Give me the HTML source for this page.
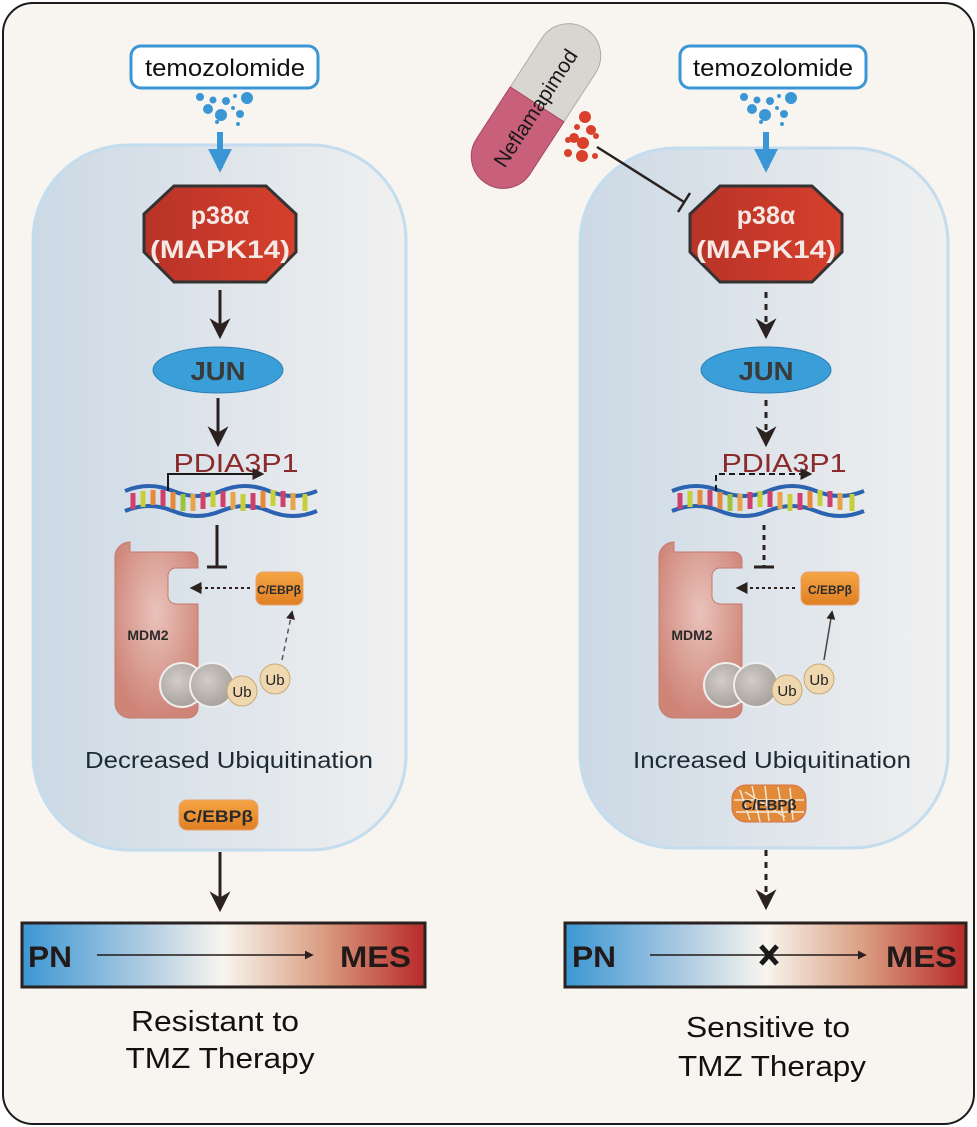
<!DOCTYPE html>
<html><head><meta charset="utf-8"><style>
html,body{margin:0;padding:0;background:#fff}
svg{display:block;font-family:"Liberation Sans",Arial,sans-serif}
</style></head><body>
<svg width="977" height="1127" viewBox="0 0 977 1127" xmlns="http://www.w3.org/2000/svg">
<defs>
<linearGradient id="cell" x1="0" x2="1"><stop offset="0" stop-color="#ccd9e5"/><stop offset="1" stop-color="#f0f0f0"/></linearGradient>
<linearGradient id="oct" x1="0" x2="1"><stop offset="0" stop-color="#b83328"/><stop offset="1" stop-color="#d6402c"/></linearGradient>
<linearGradient id="bar" x1="0" x2="1"><stop offset="0" stop-color="#3b97d3"/><stop offset="0.3" stop-color="#aecbe2"/><stop offset="0.5" stop-color="#f8f5ee"/><stop offset="0.75" stop-color="#d99c80"/><stop offset="1" stop-color="#b8292a"/></linearGradient>
<linearGradient id="orng" x1="0" y1="0" x2="0" y2="1"><stop offset="0" stop-color="#f4a544"/><stop offset="1" stop-color="#e07f24"/></linearGradient>
<radialGradient id="mdm" cx="0.5" cy="0.4" r="0.6"><stop offset="0" stop-color="#e9c3bb"/><stop offset="1" stop-color="#cf8478"/></radialGradient>
<radialGradient id="gry" cx="0.4" cy="0.4" r="0.6"><stop offset="0" stop-color="#d2cdc8"/><stop offset="1" stop-color="#a8a29d"/></radialGradient>
<marker id="ah" viewBox="0 0 10 10" refX="8" refY="5" markerWidth="6" markerHeight="6" orient="auto"><path d="M0,0 L10,5 L0,10 Z" fill="#2b2220"/></marker>
<marker id="ahs" viewBox="0 0 10 10" refX="8" refY="5" markerWidth="7" markerHeight="7" orient="auto"><path d="M0,0 L10,5 L0,10 L3,5 Z" fill="#2b2220"/></marker>
<marker id="ahb" viewBox="0 0 10 10" refX="8" refY="5" markerWidth="4" markerHeight="4" orient="auto"><path d="M0,0 L10,5 L0,10 Z" fill="#3a96d4"/></marker>
<g id="dna">
<path d="M0,8 q24,-10 48,0 t48,0 t48,0 t48,0" fill="none" stroke="#2b63b0" stroke-width="4"/>
<path d="M0,28 q24,-10 48,0 t48,0 t48,0 t48,0" fill="none" stroke="#2b63b0" stroke-width="4"/>
<g stroke-width="5">
<line x1="8" y1="10" x2="8" y2="26" stroke="#d0406e"/><line x1="18" y1="8" x2="18" y2="24" stroke="#c6cf3a"/><line x1="28" y1="7" x2="28" y2="22" stroke="#e58a3a"/><line x1="38" y1="7" x2="38" y2="23" stroke="#d0406e"/><line x1="48" y1="9" x2="48" y2="26" stroke="#e58a3a"/><line x1="58" y1="11" x2="58" y2="28" stroke="#9cc43a"/><line x1="68" y1="11" x2="68" y2="28" stroke="#e8a44a"/><line x1="78" y1="9" x2="78" y2="26" stroke="#d0406e"/><line x1="88" y1="8" x2="88" y2="24" stroke="#c6cf3a"/><line x1="98" y1="8" x2="98" y2="24" stroke="#d0406e"/><line x1="108" y1="9" x2="108" y2="26" stroke="#e8a44a"/><line x1="118" y1="11" x2="118" y2="28" stroke="#c6cf3a"/><line x1="128" y1="10" x2="128" y2="27" stroke="#d0406e"/><line x1="138" y1="8" x2="138" y2="25" stroke="#e58a3a"/><line x1="148" y1="7" x2="148" y2="23" stroke="#c6cf3a"/><line x1="158" y1="8" x2="158" y2="24" stroke="#d0406e"/><line x1="168" y1="10" x2="168" y2="27" stroke="#e8a44a"/><line x1="180" y1="11" x2="180" y2="28" stroke="#c6cf3a"/>
</g></g>
<g id="dots">
<circle cx="0" cy="0" r="4" fill="#3a96d4"/><circle cx="13" cy="3" r="3.5" fill="#3a96d4"/><circle cx="26" cy="4" r="4" fill="#3a96d4"/><circle cx="35" cy="-1" r="2" fill="#3a96d4"/><circle cx="47" cy="1" r="6" fill="#3a96d4"/><circle cx="8" cy="12" r="5" fill="#3a96d4"/><circle cx="21" cy="18" r="6" fill="#3a96d4"/><circle cx="33" cy="11" r="2" fill="#3a96d4"/><circle cx="40" cy="17" r="4" fill="#3a96d4"/><circle cx="17" cy="25" r="2" fill="#3a96d4"/><circle cx="38" cy="27" r="2" fill="#3a96d4"/>
</g>
</defs>
<rect x="0" y="0" width="977" height="1127" fill="#fff"/>
<rect x="3" y="3" width="971" height="1121" rx="30" fill="#f8f5f0" stroke="#1a1a1a" stroke-width="2"/>

<rect x="33" y="145" width="373" height="705" rx="95" fill="url(#cell)" stroke="#c3dcee" stroke-width="3"/>
<rect x="580" y="148" width="368" height="700" rx="95" fill="url(#cell)" stroke="#c3dcee" stroke-width="3"/>

<!-- LEFT -->
<rect x="131" y="46" width="187" height="42" rx="10" fill="#fff" stroke="#3a96d4" stroke-width="3"/>
<text x="225" y="76" font-size="24" text-anchor="middle" fill="#111" textLength="160" lengthAdjust="spacingAndGlyphs">temozolomide</text>
<use href="#dots" x="200" y="97"/>
<line x1="220" y1="132" x2="220" y2="168" stroke="#3a96d4" stroke-width="6" marker-end="url(#ahb)"/>
<polygon points="174,186 266,186 296,214 296,252 266,282 174,282 144,252 144,214" fill="url(#oct)" stroke="#333" stroke-width="3"/>
<text x="220" y="224" font-size="25" font-weight="bold" fill="#f6e8e4" text-anchor="middle">p38α</text>
<text x="220" y="258" font-size="25" font-weight="bold" fill="#f6e8e4" text-anchor="middle" textLength="140" lengthAdjust="spacingAndGlyphs">(MAPK14)</text>
<line x1="220" y1="290" x2="220" y2="335" stroke="#2b2220" stroke-width="3" marker-end="url(#ahs)"/>
<ellipse cx="218" cy="370" rx="65" ry="23" fill="#3a9fd8" stroke="#2c7fb8"/>
<text x="218" y="380" font-size="26" font-weight="bold" fill="#3a3a3a" text-anchor="middle" textLength="55" lengthAdjust="spacingAndGlyphs">JUN</text>
<line x1="218" y1="398" x2="218" y2="443" stroke="#2b2220" stroke-width="3" marker-end="url(#ahs)"/>
<text x="236" y="472" font-size="26" fill="#8b2a2a" text-anchor="middle" textLength="125" lengthAdjust="spacingAndGlyphs">PDIA3P1</text>
<use href="#dna" x="125" y="483"/>
<polyline points="168,491 168,474 262,474" fill="none" stroke="#1a1a1a" stroke-width="2" marker-end="url(#ah)"/>
<line x1="217" y1="525" x2="217" y2="567" stroke="#2b2220" stroke-width="3"/>
<line x1="207" y1="567" x2="227" y2="567" stroke="#2b2220" stroke-width="3"/>
<path d="M130,552 h60 a8,8 0 0 1 8,8 v8 h-22 a8,8 0 0 0 -8,8 v20 a8,8 0 0 0 8,8 h22 v104 a10,10 0 0 1 -10,10 h-58 a15,15 0 0 1 -15,-15 v-146 a15,15 0 0 1 15,-15z" fill="url(#mdm)" stroke="#c77a6e"/>
<text x="148" y="640" font-size="14" font-weight="bold" fill="#2a2a2a" text-anchor="middle">MDM2</text>
<circle cx="182" cy="685" r="22" fill="url(#gry)" stroke="#eee" stroke-width="2"/>
<circle cx="212" cy="685" r="22" fill="url(#gry)" stroke="#eee" stroke-width="2"/>
<circle cx="242" cy="691" r="15" fill="#efd8b0" stroke="#c9a877"/><text x="242" y="697" font-size="15" text-anchor="middle" fill="#222">Ub</text>
<circle cx="275" cy="679" r="15" fill="#efd8b0" stroke="#c9a877"/><text x="275" y="685" font-size="15" text-anchor="middle" fill="#222">Ub</text>
<rect x="256" y="572" width="47" height="33" rx="7" fill="url(#orng)" stroke="#e9a070"/>
<text x="279" y="594" font-size="12" font-weight="bold" fill="#2a2a2a" text-anchor="middle">C/EBPβ</text>
<line x1="250" y1="588" x2="192" y2="588" stroke="#2b2220" stroke-width="2" stroke-dasharray="3,3" marker-end="url(#ah)"/>
<line x1="282" y1="660" x2="292" y2="612" stroke="#555" stroke-width="1.5" stroke-dasharray="5,4" marker-end="url(#ah)"/>
<text x="229" y="768" font-size="23" text-anchor="middle" fill="#1e2a33" textLength="288" lengthAdjust="spacingAndGlyphs">Decreased Ubiquitination</text>
<rect x="179" y="800" width="79" height="30" rx="8" fill="url(#orng)" stroke="#e9a070"/>
<text x="218" y="822" font-size="17" font-weight="bold" fill="#2a2a2a" text-anchor="middle" textLength="70" lengthAdjust="spacingAndGlyphs">C/EBPβ</text>
<line x1="220" y1="852" x2="220" y2="908" stroke="#2b2220" stroke-width="3" marker-end="url(#ahs)"/>
<rect x="22" y="923" width="403" height="64" fill="url(#bar)" stroke="#2a2220" stroke-width="3"/>
<text x="28" y="967" font-size="30" font-weight="bold" fill="#221a18" textLength="44" lengthAdjust="spacingAndGlyphs">PN</text>
<text x="411" y="967" font-size="30" font-weight="bold" fill="#221a18" text-anchor="end" textLength="71" lengthAdjust="spacingAndGlyphs">MES</text>
<line x1="97" y1="955" x2="312" y2="955" stroke="#221a18" stroke-width="1.5" marker-end="url(#ah)"/>
<text x="215" y="1031" font-size="29" text-anchor="middle" fill="#111" textLength="168" lengthAdjust="spacingAndGlyphs">Resistant to</text>
<text x="220" y="1068" font-size="29" text-anchor="middle" fill="#111" textLength="189" lengthAdjust="spacingAndGlyphs">TMZ Therapy</text>

<!-- RIGHT -->
<rect x="680" y="46" width="186" height="42" rx="10" fill="#fff" stroke="#3a96d4" stroke-width="3"/>
<text x="773" y="76" font-size="24" text-anchor="middle" fill="#111" textLength="160" lengthAdjust="spacingAndGlyphs">temozolomide</text>
<use href="#dots" x="744" y="97"/>
<line x1="766" y1="132" x2="766" y2="168" stroke="#3a96d4" stroke-width="6" marker-end="url(#ahb)"/>
<g transform="translate(536,106) rotate(-57)">
<rect x="-92" y="-32" width="184" height="64" rx="32" fill="#d9d6d1" stroke="#b0aaa5"/>
<path d="M-60,-32 h62 v64 h-62 a32,32 0 0 1 0,-64z" fill="#c8607a" stroke="#a84860"/>
<text x="-2" y="8" font-size="21" text-anchor="middle" fill="#1a1a1a">Neflamapimod</text>
</g>
<g fill="#d9412c"><circle cx="585" cy="117" r="6"/><circle cx="577" cy="127" r="3"/><circle cx="591" cy="130" r="5"/><circle cx="574" cy="138" r="5"/><circle cx="583" cy="143" r="6"/><circle cx="596" cy="136" r="3"/><circle cx="568" cy="153" r="4"/><circle cx="582" cy="156" r="6"/><circle cx="568" cy="140" r="3"/><circle cx="595" cy="156" r="3"/></g>
<line x1="597" y1="147" x2="684" y2="202" stroke="#2b2220" stroke-width="2.5"/>
<line x1="678" y1="212" x2="690" y2="193" stroke="#2b2220" stroke-width="2.5"/>
<polygon points="720,186 812,186 842,214 842,252 812,282 720,282 690,252 690,214" fill="url(#oct)" stroke="#333" stroke-width="3"/>
<text x="766" y="224" font-size="25" font-weight="bold" fill="#f6e8e4" text-anchor="middle">p38α</text>
<text x="766" y="258" font-size="25" font-weight="bold" fill="#f6e8e4" text-anchor="middle" textLength="140" lengthAdjust="spacingAndGlyphs">(MAPK14)</text>
<line x1="766" y1="292" x2="766" y2="335" stroke="#2b2220" stroke-width="3" stroke-dasharray="6,6" marker-end="url(#ahs)"/>
<ellipse cx="766" cy="370" rx="65" ry="23" fill="#3a9fd8" stroke="#2c7fb8"/>
<text x="766" y="380" font-size="26" font-weight="bold" fill="#3a3a3a" text-anchor="middle" textLength="55" lengthAdjust="spacingAndGlyphs">JUN</text>
<line x1="766" y1="400" x2="766" y2="443" stroke="#2b2220" stroke-width="3" stroke-dasharray="6,6" marker-end="url(#ahs)"/>
<text x="784" y="472" font-size="26" fill="#8b2a2a" text-anchor="middle" textLength="125" lengthAdjust="spacingAndGlyphs">PDIA3P1</text>
<use href="#dna" x="672" y="483"/>
<polyline points="716,491 716,474 810,474" fill="none" stroke="#1a1a1a" stroke-width="2" stroke-dasharray="6,4" marker-end="url(#ah)"/>
<line x1="764" y1="525" x2="764" y2="567" stroke="#2b2220" stroke-width="3" stroke-dasharray="5,5"/>
<line x1="754" y1="567" x2="774" y2="567" stroke="#2b2220" stroke-width="3"/>
<path d="M674,552 h60 a8,8 0 0 1 8,8 v8 h-22 a8,8 0 0 0 -8,8 v20 a8,8 0 0 0 8,8 h22 v104 a10,10 0 0 1 -10,10 h-58 a15,15 0 0 1 -15,-15 v-146 a15,15 0 0 1 15,-15z" fill="url(#mdm)" stroke="#c77a6e"/>
<text x="692" y="640" font-size="14" font-weight="bold" fill="#2a2a2a" text-anchor="middle">MDM2</text>
<circle cx="726" cy="685" r="22" fill="url(#gry)" stroke="#eee" stroke-width="2"/>
<circle cx="756" cy="685" r="22" fill="url(#gry)" stroke="#eee" stroke-width="2"/>
<circle cx="787" cy="690" r="15" fill="#efd8b0" stroke="#c9a877"/><text x="787" y="696" font-size="15" text-anchor="middle" fill="#222">Ub</text>
<circle cx="819" cy="679" r="15" fill="#efd8b0" stroke="#c9a877"/><text x="819" y="685" font-size="15" text-anchor="middle" fill="#222">Ub</text>
<rect x="801" y="572" width="58" height="33" rx="7" fill="url(#orng)" stroke="#e9a070"/>
<text x="830" y="594" font-size="12" font-weight="bold" fill="#2a2a2a" text-anchor="middle">C/EBPβ</text>
<line x1="795" y1="588" x2="738" y2="588" stroke="#2b2220" stroke-width="2" stroke-dasharray="3,3" marker-end="url(#ah)"/>
<line x1="824" y1="660" x2="832" y2="612" stroke="#444" stroke-width="1.5" marker-end="url(#ah)"/>
<text x="772" y="768" font-size="23" text-anchor="middle" fill="#1e2a33" textLength="278" lengthAdjust="spacingAndGlyphs">Increased Ubiquitination</text>
<rect x="732" y="785" width="74" height="37" rx="14" fill="#e08a3a" stroke="#d9704a"/>
<g stroke="#f4e6d6" stroke-width="1.5" fill="none"><path d="M740,790 l10,30 M752,786 l8,36 M765,786 l4,35 M778,787 l6,34 M790,788 l3,32 M734,800 h70 M736,812 h68 M745,792 l40,25"/></g>
<text x="769" y="810" font-size="15" font-weight="bold" fill="#2a2a2a" text-anchor="middle">C/EBPβ</text>
<line x1="766" y1="850" x2="766" y2="906" stroke="#2b2220" stroke-width="3" stroke-dasharray="6,6" marker-end="url(#ahs)"/>
<rect x="565" y="923" width="401" height="64" fill="url(#bar)" stroke="#2a2220" stroke-width="3"/>
<text x="572" y="967" font-size="30" font-weight="bold" fill="#221a18" textLength="44" lengthAdjust="spacingAndGlyphs">PN</text>
<text x="957" y="967" font-size="30" font-weight="bold" fill="#221a18" text-anchor="end" textLength="71" lengthAdjust="spacingAndGlyphs">MES</text>
<line x1="650" y1="955" x2="865" y2="955" stroke="#221a18" stroke-width="1.5" marker-end="url(#ah)"/>
<path d="M761,946 l16,18 M777,946 l-16,18" stroke="#1a1a1a" stroke-width="5"/>
<text x="768" y="1037" font-size="29" text-anchor="middle" fill="#111" textLength="164" lengthAdjust="spacingAndGlyphs">Sensitive to</text>
<text x="772" y="1076" font-size="29" text-anchor="middle" fill="#111" textLength="188" lengthAdjust="spacingAndGlyphs">TMZ Therapy</text>
</svg>
</body></html>
